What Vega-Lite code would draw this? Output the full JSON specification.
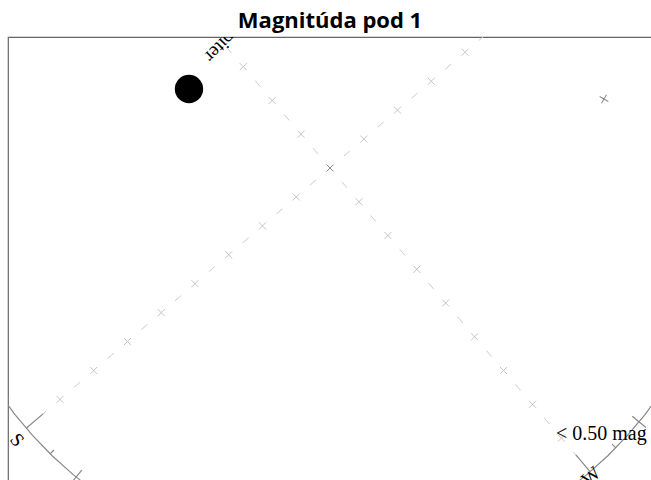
{
  "$schema": "https://vega.github.io/schema/vega-lite/v6.json",
  "width": 644,
  "height": 460,
  "autosize": {"type": "none"},
  "padding": {"left": 8, "top": 37, "right": 0, "bottom": 0},
  "background": "white",
  "title": {"text": "Magnitúda pod 1", "font": "Open Sans", "fontSize": 22, "fontWeight": "bold", "color": "#000000", "anchor": "middle", "frame": "group", "offset": 4},
  "config": {"view": {"stroke": "#666666", "strokeWidth": 1.2}},
  "datasets": {
    "axes": [
      {"dir": "N", "u": 0, "v": 0, "u2": 68.36, "v2": 58.57},
      {"dir": "S", "u": 0, "v": 0, "u2": -68.36, "v2": -58.57},
      {"dir": "E", "u": 0, "v": 0, "u2": -58.57, "v2": 68.36},
      {"dir": "W", "u": 0, "v": 0, "u2": 58.57, "v2": -68.36}
    ],
    "grid": [
      {"u": 7.60, "v": 6.51}, {"u": 15.19, "v": 13.02}, {"u": 22.79, "v": 19.52}, {"u": 30.38, "v": 26.03},
      {"u": -7.60, "v": -6.51}, {"u": -15.19, "v": -13.02}, {"u": -22.79, "v": -19.52}, {"u": -30.38, "v": -26.03},
      {"u": -37.98, "v": -32.54}, {"u": -45.57, "v": -39.05}, {"u": -53.17, "v": -45.56}, {"u": -60.76, "v": -52.06},
      {"u": -6.51, "v": 7.60}, {"u": -13.02, "v": 15.19}, {"u": -19.52, "v": 22.79}, {"u": -26.03, "v": 30.38},
      {"u": 6.51, "v": -7.60}, {"u": 13.02, "v": -15.19}, {"u": 19.52, "v": -22.79}, {"u": 26.03, "v": -30.38},
      {"u": 32.54, "v": -37.98}, {"u": 39.05, "v": -45.57}, {"u": 45.56, "v": -53.17}, {"u": 52.06, "v": -60.76}
    ],
    "horizon": [
      {"u": -74.61, "v": -50.33}, {"u": -70.92, "v": -55.41}, {"u": -66.88, "v": -60.22}, {"u": -62.52, "v": -64.74},
      {"u": -57.85, "v": -68.94}, {"u": -52.90, "v": -72.81}, {"u": -47.69, "v": -76.32}, {"u": -42.26, "v": -79.46},
      {"u": -36.60, "v": -82.22}, {"u": -30.78, "v": -84.57}, {"u": -24.80, "v": -86.52}, {"u": -18.71, "v": -88.03},
      {"u": -12.53, "v": -89.13}, {"u": -6.28, "v": -89.78}, {"u": 0, "v": -90}, {"u": 6.28, "v": -89.78},
      {"u": 12.53, "v": -89.13}, {"u": 18.71, "v": -88.03}, {"u": 24.80, "v": -86.52}, {"u": 30.78, "v": -84.57},
      {"u": 36.60, "v": -82.22}, {"u": 42.26, "v": -79.46}, {"u": 47.69, "v": -76.32}, {"u": 52.90, "v": -72.81},
      {"u": 57.85, "v": -68.94}, {"u": 62.52, "v": -64.74}, {"u": 66.88, "v": -60.22}, {"u": 70.92, "v": -55.41},
      {"u": 74.61, "v": -50.33}
    ],
    "ticks": [
      {"u": -72.20, "v": -51.69, "u2": -73.18, "v2": -52.39},
      {"u": -64.56, "v": -55.32, "u2": -68.36, "v2": -58.57},
      {"u": -62.13, "v": -63.45, "u2": -62.97, "v2": -64.31},
      {"u": -55.85, "v": -68.00, "u2": -58.39, "v2": -71.09},
      {"u": -50.17, "v": -73.27, "u2": -50.85, "v2": -74.26},
      {"u": 44.79, "v": -75.74, "u2": 46.83, "v2": -79.18},
      {"u": 51.69, "v": -72.20, "u2": 52.39, "v2": -73.18},
      {"u": 55.32, "v": -64.56, "u2": 58.57, "v2": -68.36},
      {"u": 63.45, "v": -62.13, "u2": 64.31, "v2": -62.97},
      {"u": 68.00, "v": -55.85, "u2": 71.09, "v2": -58.39},
      {"u": 73.27, "v": -50.17, "u2": 74.26, "v2": -50.85}
    ],
    "special": [{"name": "zenith", "u": 0, "v": 0}],
    "pole": [{"name": "pole", "u": 61.65, "v": 15.53}],
    "planets": [{"name": "Jupiter", "u": -31.73, "v": 17.78}],
    "planetLabels": [{"label": "Jupiter", "u": -23.4, "v": 28.58}],
    "south": [{"label": "S", "u": -70.43, "v": -61.2}],
    "west": [{"label": "W", "u": 58.73, "v": -69.3}],
    "legend": [{"label": "< 0.50 mag", "u": 50.85, "v": -61.2}]
  },
  "encoding": {
    "x": {"field": "u", "type": "quantitative", "scale": {"domain": [-72.45, 72.45], "nice": false, "zero": false}, "axis": null},
    "y": {"field": "v", "type": "quantitative", "scale": {"domain": [-74.025, 29.475], "nice": false, "zero": false}, "axis": null}
  },
  "layer": [
    {
      "data": {"name": "axes"},
      "mark": {"type": "rule", "color": "#cccccc", "strokeWidth": 1, "strokeDash": [8, 36.44], "strokeDashOffset": 26.22, "clip": true},
      "encoding": {"x2": {"field": "u2"}, "y2": {"field": "v2"}}
    },
    {
      "data": {"name": "grid"},
      "mark": {"type": "point", "shape": "M-1,-1L1,1M-1,1L1,-1", "filled": false, "stroke": "#c4c4c4", "strokeWidth": 1, "size": 49, "opacity": 1, "clip": true}
    },
    {
      "data": {"name": "horizon"},
      "mark": {"type": "line", "color": "#888888", "strokeWidth": 1.2, "clip": true}
    },
    {
      "data": {"name": "ticks"},
      "mark": {"type": "rule", "color": "#888888", "strokeWidth": 1.2, "clip": true},
      "encoding": {"x2": {"field": "u2"}, "y2": {"field": "v2"}}
    },
    {
      "data": {"name": "special"},
      "mark": {"type": "point", "shape": "M-1,-1L1,1M-1,1L1,-1", "filled": false, "stroke": "#888888", "strokeWidth": 1, "size": 49, "opacity": 1, "clip": true}
    },
    {
      "data": {"name": "pole"},
      "mark": {"type": "point", "shape": "M-1,0L1,0M0,-1L0,1", "angle": 30, "filled": false, "stroke": "#888888", "strokeWidth": 1, "size": 100, "opacity": 1, "clip": true}
    },
    {
      "data": {"name": "planets"},
      "mark": {"type": "point", "shape": "circle", "filled": true, "color": "#000000", "size": 804, "opacity": 1, "clip": true}
    },
    {
      "data": {"name": "planetLabels"},
      "mark": {"type": "text", "font": "Liberation Serif", "fontSize": 19, "color": "#000000", "angle": 135, "align": "center", "baseline": "middle", "clip": true},
      "encoding": {"text": {"field": "label"}}
    },
    {
      "data": {"name": "south"},
      "mark": {"type": "text", "font": "Liberation Serif", "fontSize": 19, "color": "#000000", "angle": 49, "align": "center", "baseline": "middle"},
      "encoding": {"text": {"field": "label"}}
    },
    {
      "data": {"name": "west"},
      "mark": {"type": "text", "font": "Liberation Serif", "fontSize": 19, "color": "#000000", "angle": -41, "align": "center", "baseline": "middle"},
      "encoding": {"text": {"field": "label"}}
    },
    {
      "data": {"name": "legend"},
      "mark": {"type": "text", "font": "Liberation Serif", "fontSize": 20, "color": "#000000", "align": "left", "baseline": "alphabetic"},
      "encoding": {"text": {"field": "label"}}
    }
  ]
}
